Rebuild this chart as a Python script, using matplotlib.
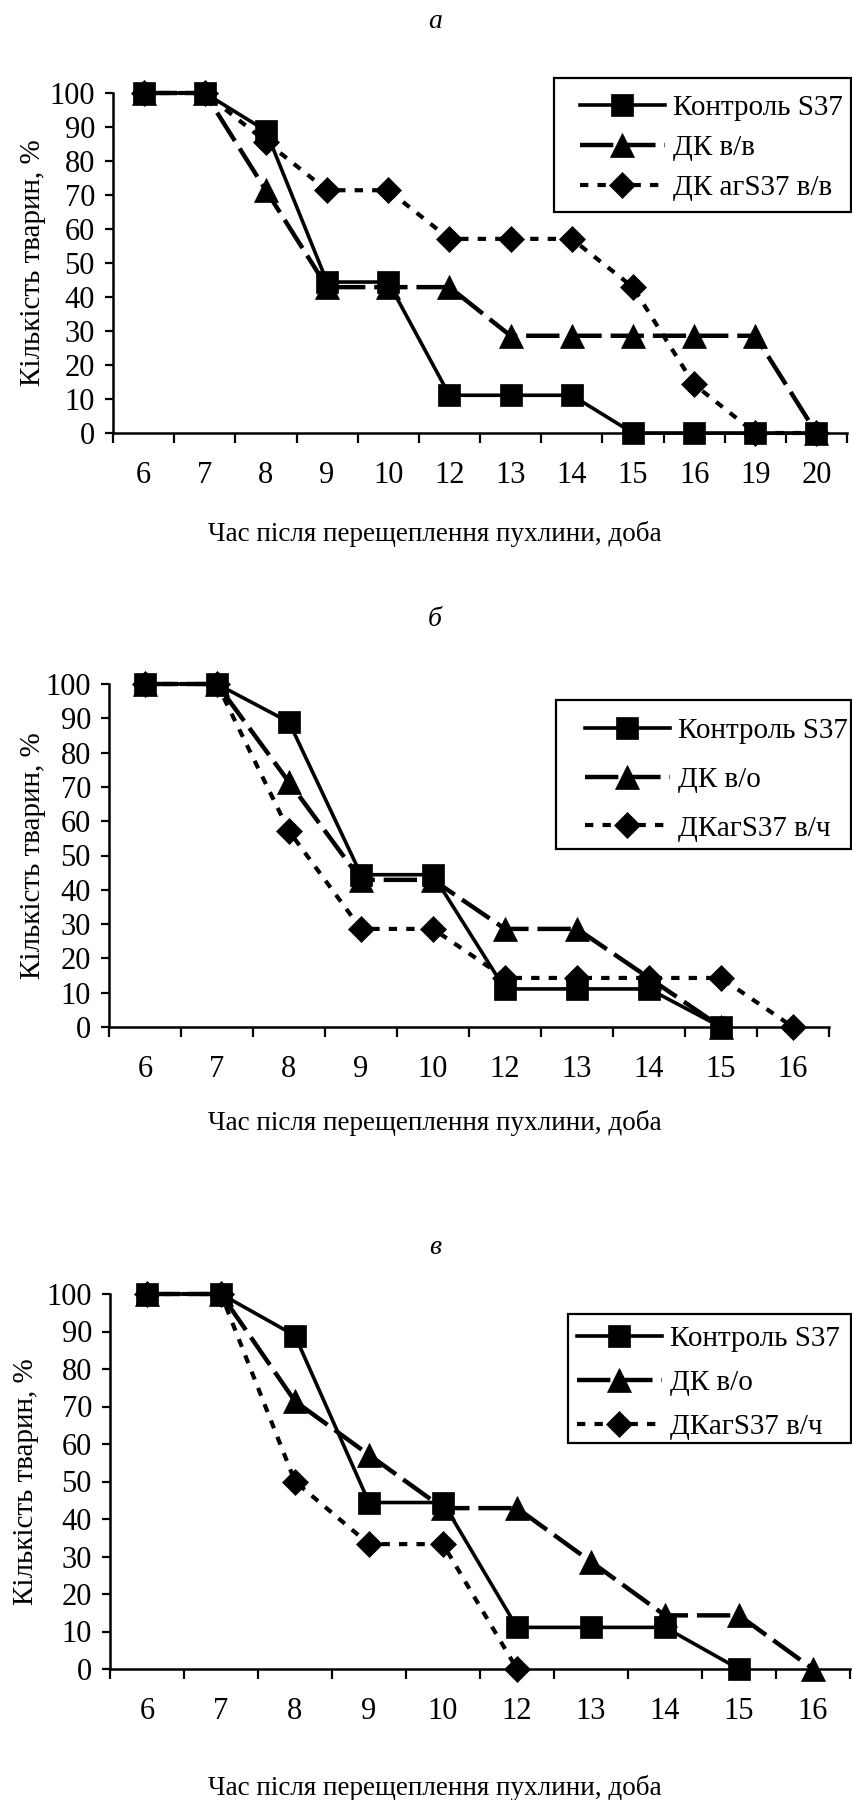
import numpy as np
import matplotlib
matplotlib.use("Agg")
import matplotlib.pyplot as plt
from matplotlib.patches import Rectangle

plt.rcParams['font.family'] = ['Liberation Serif', 'DejaVu Serif']

# ---------------- data ----------------
nan = np.nan
days_a = ['6', '7', '8', '9', '10', '12', '13', '14', '15', '16', '19', '20']
ctrl_a = [100, 100, 88.9, 44.4, 44.4, 11.1, 11.1, 11.1, 0, 0, 0, 0]
dk_a = [100, 100, 71.4, 42.9, 42.9, 42.9, 28.6, 28.6, 28.6, 28.6, 28.6, 0]
dkag_a = [100, 100, 85.7, 71.4, 71.4, 57.1, 57.1, 57.1, 42.9, 14.3, 0, 0]
labels_a = ['Контроль S37', 'ДК в/в', 'ДК агS37 в/в']

days_b = ['6', '7', '8', '9', '10', '12', '13', '14', '15', '16']
ctrl_b = [100, 100, 88.9, 44.4, 44.4, 11.1, 11.1, 11.1, 0, nan]
dk_b = [100, 100, 71.4, 42.9, 42.9, 28.6, 28.6, 14.3, 0, nan]
dkag_b = [100, 100, 57.1, 28.6, 28.6, 14.3, 14.3, 14.3, 14.3, 0]
labels_b = ['Контроль S37', 'ДК в/о', 'ДКагS37 в/ч']

days_c = ['6', '7', '8', '9', '10', '12', '13', '14', '15', '16']
ctrl_c = [100, 100, 88.9, 44.4, 44.4, 11.1, 11.1, 11.1, 0, nan]
dk_c = [100, 100, 71.4, 57.1, 42.9, 42.9, 28.6, 14.3, 14.3, 0]
dkag_c = [100, 100, 50, 33.3, 33.3, 0, nan, nan, nan, nan]
labels_c = ['Контроль S37', 'ДК в/о', 'ДКагS37 в/ч']

panel_titles = ['а', 'б', 'в']
xlabel = 'Час після перещеплення пухлини, доба'
ylabel = 'Кількість тварин, %'

W, H = 852, 1800
fig = plt.figure(figsize=(W / 100, H / 100), dpi=100)
FS = 20
TICK_FS = 22
LEG_FS = 21


def fx(px):
    return px / W


def fy(py):
    return 1 - py / H


panels = [
    dict(days=days_a, ctrl=ctrl_a, dk=dk_a, dkag=dkag_a, labels=labels_a,
         box=(113, 847, 93, 433), title_y=21, xlab_y=534, ylab_x=33,
         leg_box=(554, 851, 78, 212), leg_xy=(580, 95), leg_sp=0.46),
    dict(days=days_b, ctrl=ctrl_b, dk=dk_b, dkag=dkag_b, labels=labels_b,
         box=(109, 829, 684, 1027), title_y=620, xlab_y=1123, ylab_x=33,
         leg_box=(556, 851, 700, 849), leg_xy=(585, 718), leg_sp=0.76),
    dict(days=days_c, ctrl=ctrl_c, dk=dk_c, dkag=dkag_c, labels=labels_c,
         box=(110, 850, 1294, 1669), title_y=1247, xlab_y=1788, ylab_x=26,
         leg_box=(568, 851, 1314, 1443), leg_xy=(577, 1326), leg_sp=0.60),
]

for i, p in enumerate(panels):
    l, r, t, b = p['box']
    ax = fig.add_axes([fx(l), fy(b), fx(r - l), (b - t) / H])
    n = len(p['days'])
    x = np.arange(n)

    h3, = ax.plot(x, p['dkag'], color='black', lw=3, dashes=(2.0, 2.2),
                  marker='D', ms=13, mfc='black', mec='black', mew=0.5,
                  clip_on=False, zorder=3)
    h2, = ax.plot(x, p['dk'], color='black', lw=3.2, dashes=(7.5, 2.0),
                  marker='^', ms=17, mfc='black', mec='black', mew=0.5,
                  clip_on=False, zorder=4)
    h1, = ax.plot(x, p['ctrl'], color='black', lw=2.6, ls='-',
                  marker='s', ms=16.5, mfc='black', mec='black', mew=0.5,
                  clip_on=False, zorder=5)

    ax.set_xlim(-0.5, n - 0.5)
    ax.set_ylim(0, 100)
    for s in ['top', 'right']:
        ax.spines[s].set_visible(False)
    for s in ['left', 'bottom']:
        ax.spines[s].set_linewidth(1.8)
    ax.set_yticks(np.arange(0, 101, 10))
    ax.tick_params(axis='y', direction='out', length=6, width=1.6,
                   labelsize=TICK_FS, pad=7)
    ax.set_xticks(np.arange(-0.5, n, 1.0))
    ax.set_xticklabels([])
    ax.tick_params(axis='x', which='major', direction='out', length=7,
                   width=1.6)
    ax.set_xticks(x, minor=True)
    ax.set_xticklabels(p['days'], minor=True)
    ax.tick_params(axis='x', which='minor', length=0, labelsize=TICK_FS,
                   pad=20)

    fig.text(fx(435), fy(p['title_y']), panel_titles[i], fontsize=FS,
             style='italic', ha='center', va='center')
    fig.text(fx(435), fy(p['xlab_y']), xlabel, fontsize=FS - 0.5,
             ha='center', va='center')
    fig.text(fx(p['ylab_x']), fy((t + b) / 2), ylabel, fontsize=FS + 1,
             rotation=90, ha='center', va='center')

    lx0, lx1, ly0, ly1 = p['leg_box']
    rect = Rectangle((fx(lx0), fy(ly1)), fx(lx1 - lx0), (ly1 - ly0) / H,
                     transform=fig.transFigure, facecolor='white',
                     edgecolor='black', lw=1.6, zorder=8, clip_on=False)
    ax.add_artist(rect)
    leg = ax.legend([h1, h2, h3], p['labels'], loc='upper left',
                    bbox_to_anchor=(fx(p['leg_xy'][0]), fy(p['leg_xy'][1])),
                    bbox_transform=fig.transFigure, frameon=False,
                    fontsize=LEG_FS, borderpad=0, borderaxespad=0,
                    handlelength=2.9, handletextpad=0.3,
                    labelspacing=p['leg_sp'], numpoints=1)
    leg.set_zorder(11)

fig.savefig('out.png', dpi=100)
